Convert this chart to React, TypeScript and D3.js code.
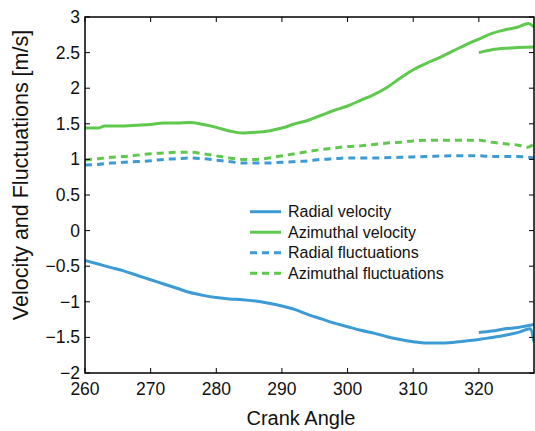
import React from "react";
import * as d3 from "d3";

const xTicks = [260, 270, 280, 290, 300, 310, 320];
const yTicks = [-2, -1.5, -1, -0.5, 0, 0.5, 1, 1.5, 2, 2.5, 3];

const radialVelocity: [number, number][] = [
  [260, -0.42], [262, -0.47], [264, -0.52], [266, -0.57], [268, -0.63], [270, -0.69],
  [272, -0.75], [274, -0.81], [276, -0.87], [278, -0.91], [280, -0.94], [282, -0.96],
  [284, -0.97], [286, -0.99], [288, -1.02], [290, -1.06], [292, -1.11], [294, -1.18],
  [296, -1.24], [298, -1.30], [300, -1.35], [302, -1.40], [304, -1.44], [306, -1.49],
  [308, -1.53], [310, -1.56], [312, -1.58], [314, -1.58], [316, -1.57], [318, -1.55],
  [320, -1.53], [322, -1.50], [324, -1.47], [326, -1.43], [327.8, -1.38], [328.4, -1.56],
];
const radialVelocity2: [number, number][] = [
  [320, -1.43], [322, -1.41], [324, -1.38], [326, -1.36], [328.4, -1.32],
];
const azimuthalVelocity: [number, number][] = [
  [260, 1.44], [262, 1.44], [263, 1.47], [266, 1.47], [268, 1.48], [270, 1.49],
  [272, 1.51], [274, 1.51], [276, 1.52], [278, 1.49], [280, 1.45], [282, 1.40],
  [284, 1.37], [286, 1.38], [288, 1.40], [290, 1.44], [292, 1.50], [294, 1.55],
  [296, 1.62], [298, 1.69], [300, 1.75], [302, 1.83], [304, 1.91], [306, 2.01],
  [308, 2.14], [310, 2.26], [312, 2.35], [314, 2.43], [316, 2.52], [318, 2.61],
  [320, 2.69], [322, 2.77], [324, 2.82], [326, 2.86], [327.5, 2.91], [328.4, 2.86],
];
const azimuthalVelocity2: [number, number][] = [
  [320, 2.50], [322, 2.54], [324, 2.56], [326, 2.57], [328.4, 2.58],
];
const radialFluctuations: [number, number][] = [
  [260, 0.92], [262, 0.93], [264, 0.95], [266, 0.96], [268, 0.97], [270, 0.98],
  [272, 1.00], [274, 1.01], [276, 1.02], [278, 1.01], [280, 0.99], [282, 0.97],
  [284, 0.95], [286, 0.95], [288, 0.95], [290, 0.96], [292, 0.97], [294, 0.98],
  [296, 1.00], [298, 1.01], [300, 1.02], [304, 1.02], [308, 1.03], [312, 1.04],
  [316, 1.05], [320, 1.05], [322, 1.04], [324, 1.04], [326, 1.04], [327.5, 1.03],
  [328.4, 1.02],
];
const azimuthalFluctuations: [number, number][] = [
  [260, 0.99], [262, 1.01], [264, 1.03], [266, 1.04], [268, 1.06], [270, 1.08],
  [272, 1.09], [274, 1.10], [276, 1.10], [278, 1.08], [280, 1.05], [282, 1.02],
  [284, 1.00], [286, 1.00], [288, 1.02], [290, 1.05], [292, 1.08], [294, 1.11],
  [296, 1.14], [298, 1.16], [300, 1.18], [302, 1.19], [304, 1.21], [306, 1.23],
  [308, 1.24], [310, 1.26], [314, 1.27], [318, 1.27], [320, 1.27], [322, 1.24],
  [324, 1.22], [326, 1.20], [327.4, 1.17], [328.4, 1.22],
];

const legendLabels = [
  "Radial velocity",
  "Azimuthal velocity",
  "Radial fluctuations",
  "Azimuthal fluctuations",
];

const BLUE = "#3c9bd5";
const GREEN = "#5fc94e";
const FONT = "'Liberation Sans', Arial, Helvetica, sans-serif";

export default function App() {
  const W = 535, H = 431;
  const left = 85, right = 534, top = 17, bottom = 373;
  const x = d3.scaleLinear().domain([260, 328.4]).range([left, right]);
  const y = d3.scaleLinear().domain([-2, 3]).range([bottom, top]);
  const line = d3.line<[number, number]>().x((d) => x(d[0])).y((d) => y(d[1])).curve(d3.curveMonotoneX);

  const series = [
    { data: radialVelocity, color: BLUE, dash: undefined },
    { data: radialVelocity2, color: BLUE, dash: undefined },
    { data: azimuthalVelocity, color: GREEN, dash: undefined },
    { data: azimuthalVelocity2, color: GREEN, dash: undefined },
    { data: radialFluctuations, color: BLUE, dash: "7 5" },
    { data: azimuthalFluctuations, color: GREEN, dash: "7 5" },
  ];
  const legend = [
    { color: BLUE, dash: undefined },
    { color: GREEN, dash: undefined },
    { color: BLUE, dash: "7 5" },
    { color: GREEN, dash: "7 5" },
  ];
  const fmt = (v: number) => (v < 0 ? "\u2212" + String(-v) : String(v));

  return (
    <svg width={W} height={H} style={{ position: "absolute", left: 0, top: 0, background: "#fff" }} fontFamily={FONT}>
      <rect x={0} y={0} width={W} height={H} fill="#fff" />
      <defs>
        <clipPath id="plot">
          <rect x={left} y={top - 2} width={right - left} height={bottom - top + 4} />
        </clipPath>
      </defs>
      <g clipPath="url(#plot)">
        {series.map((s, i) => (
          <path key={i} d={line(s.data) || ""} fill="none" stroke={s.color} strokeWidth={3}
            strokeDasharray={s.dash} strokeLinejoin="round" />
        ))}
      </g>
      <rect x={left} y={top} width={right - left} height={bottom - top} fill="none" stroke="#000" strokeWidth={1.5} />
      {xTicks.map((t) => (
        <g key={"x" + t}>
          <line x1={x(t)} x2={x(t)} y1={bottom} y2={bottom - 5} stroke="#000" strokeWidth={1} />
          <line x1={x(t)} x2={x(t)} y1={top} y2={top + 5} stroke="#000" strokeWidth={1} />
          <text x={x(t)} y={395} textAnchor="middle" fontSize={17.5} fill="#111">{t}</text>
        </g>
      ))}
      {yTicks.map((t) => (
        <g key={"y" + t}>
          <line x1={left} x2={left + 5} y1={y(t)} y2={y(t)} stroke="#000" strokeWidth={1} />
          <line x1={right} x2={right - 5} y1={y(t)} y2={y(t)} stroke="#000" strokeWidth={1} />
          <text x={80} y={y(t) + 6} textAnchor="end" fontSize={17.5} fill="#111">{fmt(t)}</text>
        </g>
      ))}
      <text x={301} y={425} textAnchor="middle" fontSize={20} fill="#111">Crank Angle</text>
      <text transform={`translate(28,175) rotate(-90)`} textAnchor="middle" fontSize={21.5} fill="#111">
        Velocity and Fluctuations [m/s]
      </text>
      {legendLabels.map((lab, i) => {
        const cy = 211.7 + i * 20.5;
        return (
          <g key={lab}>
            <line x1={250} x2={281} y1={cy} y2={cy} stroke={legend[i].color} strokeWidth={3}
              strokeDasharray={legend[i].dash} />
            <text x={288} y={cy + 5.5} fontSize={16} fill="#111">{lab}</text>
          </g>
        );
      })}
    </svg>
  );
}
